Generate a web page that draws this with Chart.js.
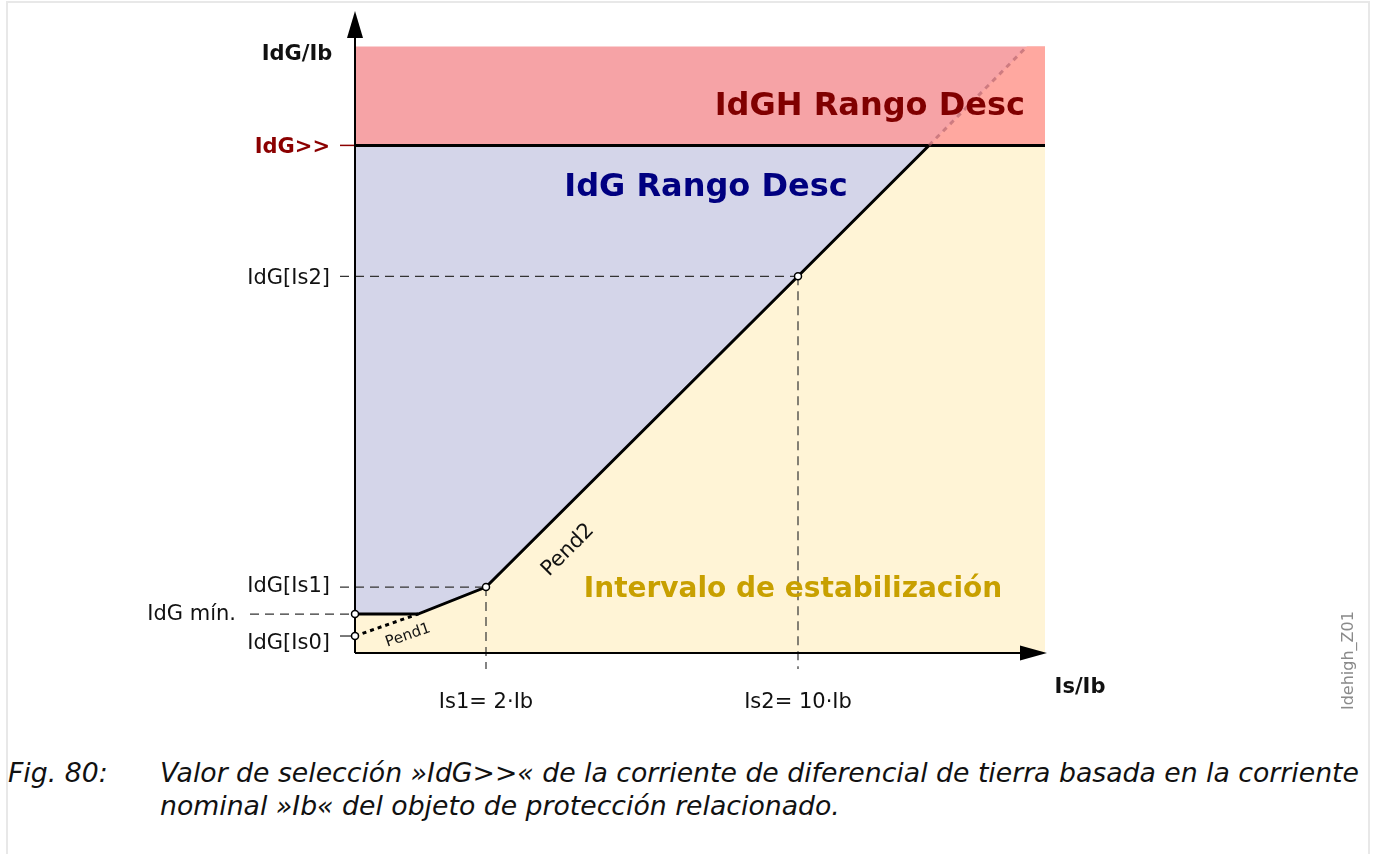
<!DOCTYPE html>
<html lang="es">
<head>
<meta charset="UTF-8">
<title>IdG>> Rango Desc</title>
<script src="https://cdn.jsdelivr.net/npm/chart.js"></script>
<style>
  body { margin: 0; background: #fff; font-family: "DejaVu Sans", sans-serif; }
  #marco { position: absolute; left: 6px; top: 1px; width: 1360px; height: 870px;
           border: 2px solid #e8e8e8; border-bottom: none; }
  #grafico { position: absolute; left: 0; top: 0; }
  .pie { position: absolute; font-style: italic; font-size: 26.7px; color: #111; white-space: nowrap; }
</style>
</head>
<body>
<div id="marco"></div>
<canvas id="grafico" width="1375" height="740"></canvas>
<div class="pie" style="left:8px; top:757px;">Fig. 80:</div>
<div class="pie" style="left:160px; top:757px;">Valor de selección »IdG&gt;&gt;« de la corriente de diferencial de tierra basada en la corriente</div>
<div class="pie" style="left:160px; top:790px;">nominal »Ib« del objeto de protección relacionado.</div>

<script>
// esquema, unidades arbitrarias (eje Is/Ib horizontal, IdG/Ib vertical)
var xMax = 690, yMax = 607;
var idgMin = 39, idgIs0 = 17, idgIs1 = 66, idgIs2 = 377, idgAlto = 508;
var xQuiebre = 63, xIs1 = 131, xIs2 = 443, xAlto = 574, xFinDiag = 672;

var curva = [
    { x: 0, y: idgMin }, { x: xQuiebre, y: idgMin }, { x: xIs1, y: idgIs1 },
    { x: xIs2, y: idgIs2 }, { x: xAlto, y: idgAlto }, { x: xMax, y: idgAlto }
];
var pend1 = [{ x: 0, y: idgIs0 }, { x: xQuiebre, y: idgMin }];
var prolongacion = [{ x: xAlto, y: idgAlto }, { x: xFinDiag, y: yMax }];
var puntos = [
    { x: 0, y: idgIs0 }, { x: 0, y: idgMin }, { x: xIs1, y: idgIs1 }, { x: xIs2, y: idgIs2 }
];

var etiquetasY = [
    { texto: 'IdG>>', y: idgAlto, color: '#8b0000', negrita: true },
    { texto: 'IdG[Is2]', y: idgIs2 },
    { texto: 'IdG[Is1]', y: idgIs1 + 3 },
    { texto: 'IdG[Is0]', y: idgIs0 - 5 }
];
var etiquetasX = [
    { texto: 'Is1= 2·Ib', x: xIs1 },
    { texto: 'Is2= 10·Ib', x: xIs2 }
];

function linea(datos, color, ancho, guion, orden) {
    return {
        data: datos, borderColor: color, borderWidth: ancho, borderDash: guion || [],
        pointRadius: 0, fill: false, showLine: true, clip: false, order: orden
    };
}

var conjuntos = [
    // zona roja arriba de IdG>>
    { data: [{ x: 0, y: yMax }, { x: xMax, y: yMax }], fill: { value: idgAlto },
      backgroundColor: '#f6a3a6', borderWidth: 0, pointRadius: 0, showLine: true, order: 30 },
    { data: [{ x: xAlto, y: idgAlto }, { x: xFinDiag, y: yMax }, { x: xMax, y: yMax }],
      fill: { value: idgAlto }, backgroundColor: '#ffa8a0', borderWidth: 0, pointRadius: 0,
      showLine: true, order: 29 },
    // zona IdG Rango Desc
    { data: [{ x: 0, y: idgAlto }, { x: xMax, y: idgAlto }], fill: 'origin',
      backgroundColor: '#d4d5e9', borderColor: '#000', borderWidth: 3, pointRadius: 0,
      showLine: true, order: 20 },
    // zona de estabilizacion
    { data: curva, fill: 'origin', backgroundColor: '#fff4d6', borderColor: '#000',
      borderWidth: 3, pointRadius: 0, showLine: true, order: 10 },
    linea(prolongacion, 'rgba(170,90,100,0.55)', 3, [5, 5], 9),
    linea(pend1, '#000', 3, [4, 4], 5),
    // lineas guia
    linea([{ x: -15, y: idgIs2 }, { x: xIs2, y: idgIs2 }], '#333', 1.2, [9, 6], 6),
    linea([{ x: -15, y: idgIs1 }, { x: xIs1, y: idgIs1 }], '#333', 1.2, [9, 6], 6),
    linea([{ x: -105, y: idgMin }, { x: 0, y: idgMin }], '#333', 1.2, [9, 6], 6),
    linea([{ x: xIs2, y: idgIs2 }, { x: xIs2, y: -16 }], '#333', 1.2, [9, 6], 6),
    linea([{ x: xIs1, y: idgIs1 }, { x: xIs1, y: -16 }], '#333', 1.2, [9, 6], 6),
    linea([{ x: -15, y: idgIs0 }, { x: 0, y: idgIs0 }], '#222', 1.2, [], 6),
    linea([{ x: -15, y: idgAlto }, { x: 0, y: idgAlto }], '#8b0000', 1.5, [], 6),
    // ejes
    linea([{ x: 0, y: 0 }, { x: 0, y: 620 }], '#000', 2, [], 2),
    linea([{ x: 0, y: 0 }, { x: 670, y: 0 }], '#000', 2, [], 2),
    // puntos
    { data: puntos, showLine: false, pointRadius: 3.5, pointBackgroundColor: '#fff',
      pointBorderColor: '#000', pointBorderWidth: 1.5, clip: false, order: 0 }
];

var textos = {
    id: 'textos',
    afterDraw: function(chart) {
        var ctx = chart.ctx, sx = chart.scales.x, sy = chart.scales.y;
        function px(v) { return sx.getPixelForValue(v); }
        function py(v) { return sy.getPixelForValue(v); }
        function escribir(t, x, y, tam, negrita, color, alin, rot) {
            ctx.save();
            ctx.translate(x, y + tam * 0.1);
            if (rot) ctx.rotate(rot);
            ctx.font = (negrita ? 'bold ' : '') + tam + 'px "DejaVu Sans"';
            ctx.fillStyle = color;
            ctx.textAlign = alin || 'left';
            ctx.textBaseline = 'middle';
            ctx.fillText(t, 0, 0);
            ctx.restore();
        }
        function flecha(p) {
            ctx.beginPath();
            ctx.moveTo(p[0][0], p[0][1]);
            ctx.lineTo(p[1][0], p[1][1]);
            ctx.lineTo(p[2][0], p[2][1]);
            ctx.closePath();
            ctx.fill();
        }
        ctx.save();
        // puntas de flecha de los ejes
        ctx.fillStyle = '#000';
        var x0 = px(0), y0 = py(0);
        flecha([[x0, 11], [x0 - 8, 38], [x0 + 8, 38]]);
        flecha([[1047, y0], [1020, y0 - 7.5], [1020, y0 + 7.5]]);

        etiquetasY.forEach(function(e) {
            escribir(e.texto, px(-25), py(e.y), 21, e.negrita, e.color || '#111', 'right');
        });
        escribir('IdG mín.', px(-119), py(idgMin) - 2, 21, false, '#111', 'right');
        etiquetasX.forEach(function(e) {
            escribir(e.texto, px(e.x), y0 + 47, 21, false, '#111', 'center');
        });
        escribir('IdG/Ib', 297, 52, 21, true, '#111', 'center');
        escribir('Is/Ib', 1080, 685, 21, true, '#111', 'center');
        escribir('Idehigh_Z01', 1349, 659, 16, false, '#8a8a8a', 'center', -Math.PI / 2);
        escribir('IdGH Rango Desc', 1025, 103, 32, true, '#800000', 'right');
        escribir('IdG Rango Desc', 706, 184, 32, true, '#000080', 'center');
        escribir('Intervalo de estabilización', 793, 587, 28, true, '#c8a000', 'center');
        escribir('Pend2', 568, 548, 21, false, '#111', 'center', -Math.PI / 4);
        escribir('Pend1', 408, 634, 15, false, '#111', 'center', -0.33);
        ctx.restore();
    }
};

new Chart(document.getElementById('grafico').getContext('2d'), {
    type: 'scatter',
    data: { datasets: conjuntos },
    options: {
        responsive: false,
        animation: false,
        devicePixelRatio: 1,
        layout: { padding: { left: 355, top: 5, right: 320, bottom: 87 } },
        scales: {
            x: { type: 'linear', min: 0, max: 700, display: false },
            y: { type: 'linear', min: 0, max: 648, display: false }
        },
        plugins: { legend: { display: false }, tooltip: { enabled: false } }
    },
    plugins: [textos]
});
</script>
</body>
</html>
